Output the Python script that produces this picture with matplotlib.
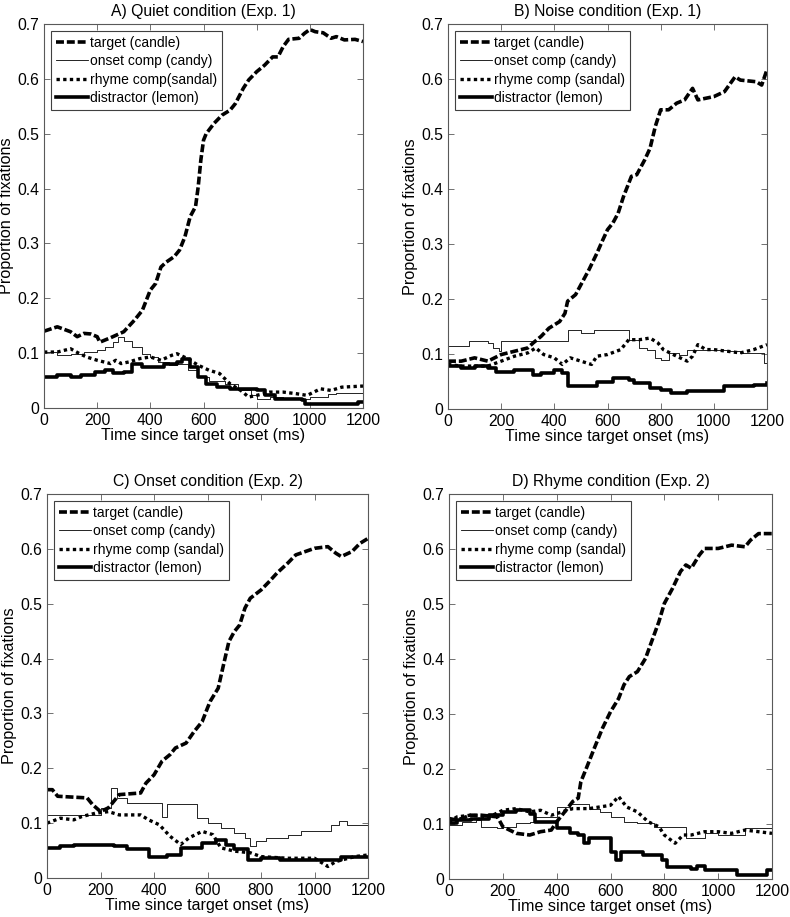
import numpy as np
import matplotlib
matplotlib.use("Agg")
import matplotlib.pyplot as plt

plt.rcParams['font.family'] = ['Liberation Sans', 'DejaVu Sans']

# ---- data (time in ms, proportion of fixations) ----

# A) Quiet condition
a_target_t = [0, 50, 100, 125, 150, 175, 200, 210, 250, 300, 340, 370, 400, 420, 440, 460, 490, 510, 530, 550,
              570, 580, 590, 600, 610, 640, 670, 700, 720, 750, 770, 800, 830, 860, 880, 900, 920, 960, 980,
              1000, 1020, 1050, 1080, 1100, 1130, 1170, 1200]
a_target_y = [0.140, 0.148, 0.139, 0.130, 0.136, 0.135, 0.130, 0.120, 0.128, 0.139, 0.160, 0.178, 0.215, 0.227,
              0.257, 0.266, 0.276, 0.288, 0.312, 0.349, 0.367, 0.403, 0.452, 0.488, 0.500, 0.519, 0.534, 0.543,
              0.555, 0.583, 0.598, 0.613, 0.625, 0.640, 0.640, 0.659, 0.672, 0.674, 0.683, 0.690, 0.686, 0.684,
              0.674, 0.677, 0.671, 0.672, 0.668]
a_onset_t = [0, 50, 100, 150, 200, 230, 260, 280, 300, 330, 370, 400, 430, 470, 500, 540, 580, 620, 680, 730,
             780, 800, 850, 900, 950, 1000, 1070, 1100, 1180, 1200]
a_onset_y = [0.102, 0.096, 0.099, 0.102, 0.105, 0.111, 0.120, 0.130, 0.123, 0.111, 0.099, 0.093, 0.084, 0.078,
             0.081, 0.069, 0.057, 0.050, 0.044, 0.032, 0.023, 0.017, 0.020, 0.017, 0.017, 0.020, 0.026, 0.027,
             0.027, 0.020]
a_rhyme_t = [0, 50, 100, 130, 160, 200, 250, 270, 290, 320, 360, 400, 440, 480, 500, 540, 580, 620, 660, 700,
             740, 770, 800, 850, 900, 950, 990, 1040, 1080, 1120, 1200]
a_rhyme_y = [0.102, 0.102, 0.108, 0.100, 0.093, 0.087, 0.081, 0.087, 0.081, 0.084, 0.090, 0.093, 0.087, 0.096,
             0.099, 0.090, 0.078, 0.069, 0.063, 0.044, 0.032, 0.020, 0.023, 0.029, 0.029, 0.026, 0.023, 0.035,
             0.032, 0.038, 0.040]
a_distr_t = [0, 50, 100, 140, 190, 230, 260, 300, 330, 370, 400, 450, 500, 520, 550, 580, 610, 650, 700, 800,
             830, 870, 970, 980, 1170, 1180, 1200]
a_distr_y = [0.057, 0.060, 0.057, 0.061, 0.066, 0.069, 0.064, 0.066, 0.081, 0.075, 0.075, 0.081, 0.084, 0.090,
             0.075, 0.057, 0.044, 0.038, 0.035, 0.032, 0.023, 0.017, 0.014, 0.008, 0.008, 0.011, 0.011]

# B) Noise condition
b_target_t = [0, 50, 100, 150, 200, 250, 300, 320, 350, 380, 420, 440, 450, 480, 510, 530, 560, 580, 600, 620,
              640, 660, 690, 710, 740, 760, 780, 800, 830, 860, 890, 920, 940, 1000, 1040, 1080, 1100, 1160,
              1180, 1200]
b_target_y = [0.087, 0.087, 0.093, 0.087, 0.099, 0.105, 0.111, 0.120, 0.132, 0.147, 0.159, 0.174, 0.196, 0.208,
              0.235, 0.253, 0.283, 0.305, 0.326, 0.338, 0.356, 0.386, 0.423, 0.426, 0.453, 0.474, 0.514, 0.544,
              0.544, 0.556, 0.562, 0.583, 0.562, 0.568, 0.577, 0.604, 0.598, 0.595, 0.589, 0.617]
b_onset_t = [0, 60, 80, 150, 170, 190, 200, 300, 420, 450, 500, 550, 650, 680, 720, 750, 780, 800, 830, 870,
             900, 950, 1000, 1050, 1100, 1180, 1190, 1200]
b_onset_y = [0.115, 0.115, 0.123, 0.120, 0.111, 0.105, 0.123, 0.123, 0.123, 0.144, 0.138, 0.144, 0.144, 0.126,
             0.111, 0.108, 0.093, 0.090, 0.102, 0.099, 0.108, 0.108, 0.108, 0.105, 0.102, 0.102, 0.084, 0.084]
b_rhyme_t = [0, 50, 100, 150, 200, 250, 300, 330, 360, 400, 430, 460, 500, 540, 560, 600, 650, 680, 720, 760,
             790, 810, 860, 900, 920, 940, 970, 1000, 1050, 1100, 1150, 1200]
b_rhyme_y = [0.081, 0.078, 0.078, 0.078, 0.087, 0.096, 0.102, 0.111, 0.099, 0.093, 0.081, 0.093, 0.087, 0.081,
             0.096, 0.099, 0.108, 0.126, 0.126, 0.129, 0.120, 0.108, 0.096, 0.087, 0.096, 0.117, 0.108, 0.108,
             0.105, 0.102, 0.108, 0.117]
b_distr_t = [0, 50, 100, 150, 180, 250, 300, 320, 350, 400, 430, 450, 540, 560, 620, 680, 700, 760, 800, 840,
             900, 1000, 1040, 1150, 1200]
b_distr_y = [0.078, 0.075, 0.078, 0.075, 0.068, 0.071, 0.071, 0.062, 0.065, 0.071, 0.065, 0.041, 0.041, 0.050,
             0.056, 0.053, 0.047, 0.038, 0.035, 0.029, 0.032, 0.032, 0.041, 0.044, 0.047]

# C) Onset condition
c_target_t = [0, 20, 40, 150, 170, 200, 230, 250, 270, 350, 370, 400, 430, 460, 480, 520, 550, 580, 600, 610,
              640, 660, 680, 700, 720, 740, 760, 800, 830, 860, 900, 930, 1000, 1050, 1080, 1100, 1140, 1170, 1200]
c_target_y = [0.161, 0.161, 0.149, 0.146, 0.134, 0.121, 0.128, 0.140, 0.152, 0.155, 0.173, 0.188, 0.213, 0.225,
              0.237, 0.246, 0.267, 0.285, 0.310, 0.322, 0.346, 0.389, 0.431, 0.449, 0.461, 0.492, 0.510, 0.525,
              0.540, 0.556, 0.574, 0.589, 0.601, 0.604, 0.592, 0.586, 0.595, 0.610, 0.619]
c_onset_t = [0, 130, 200, 240, 260, 300, 360, 430, 450, 520, 560, 600, 650, 700, 740, 760, 780, 820, 900, 950,
             1030, 1060, 1090, 1120, 1200]
c_onset_y = [0.115, 0.115, 0.128, 0.164, 0.146, 0.137, 0.137, 0.112, 0.134, 0.134, 0.109, 0.100, 0.091, 0.082,
             0.073, 0.058, 0.067, 0.073, 0.079, 0.085, 0.085, 0.097, 0.103, 0.097, 0.094]
c_rhyme_t = [0, 50, 100, 130, 180, 230, 270, 350, 380, 420, 460, 500, 530, 580, 620, 650, 700, 760, 800, 900,
             1000, 1050, 1080, 1150, 1200]
c_rhyme_y = [0.100, 0.109, 0.106, 0.112, 0.118, 0.121, 0.115, 0.115, 0.106, 0.097, 0.076, 0.061, 0.073, 0.085,
             0.079, 0.055, 0.049, 0.046, 0.039, 0.036, 0.036, 0.021, 0.030, 0.039, 0.042]
c_distr_t = [0, 50, 100, 150, 200, 250, 300, 380, 450, 500, 540, 580, 630, 670, 700, 750, 800, 850, 870, 1050,
             1100, 1200]
c_distr_y = [0.055, 0.058, 0.061, 0.061, 0.061, 0.058, 0.052, 0.039, 0.042, 0.055, 0.055, 0.064, 0.070, 0.061,
             0.052, 0.033, 0.036, 0.036, 0.033, 0.033, 0.039, 0.039]

# D) Rhyme condition
d_target_t = [0, 30, 80, 120, 180, 200, 250, 300, 340, 380, 400, 420, 460, 480, 490, 510, 540, 570, 600, 630,
              650, 670, 700, 730, 750, 780, 800, 830, 860, 880, 900, 930, 950, 1000, 1050, 1100, 1120, 1150, 1200]
d_target_y = [0.110, 0.107, 0.116, 0.116, 0.113, 0.095, 0.083, 0.080, 0.086, 0.089, 0.104, 0.116, 0.141, 0.147,
              0.177, 0.201, 0.238, 0.274, 0.304, 0.328, 0.353, 0.368, 0.377, 0.401, 0.428, 0.468, 0.501, 0.528,
              0.559, 0.571, 0.565, 0.589, 0.601, 0.601, 0.607, 0.604, 0.616, 0.628, 0.628]
d_onset_t = [0, 50, 100, 120, 180, 200, 250, 300, 320, 350, 400, 420, 450, 520, 560, 600, 650, 700, 760, 860,
             880, 920, 950, 1000, 1100, 1150, 1200]
d_onset_y = [0.098, 0.104, 0.107, 0.095, 0.092, 0.095, 0.101, 0.104, 0.113, 0.113, 0.131, 0.131, 0.137, 0.128,
             0.122, 0.113, 0.104, 0.101, 0.095, 0.095, 0.074, 0.074, 0.083, 0.080, 0.092, 0.092, 0.089]
d_rhyme_t = [0, 30, 80, 150, 200, 250, 300, 340, 380, 420, 460, 520, 560, 600, 630, 660, 700, 740, 780, 800,
             840, 870, 900, 950, 1000, 1050, 1100, 1150, 1200]
d_rhyme_y = [0.104, 0.113, 0.116, 0.113, 0.125, 0.128, 0.122, 0.125, 0.116, 0.122, 0.128, 0.128, 0.131, 0.134,
             0.150, 0.131, 0.122, 0.104, 0.095, 0.080, 0.065, 0.080, 0.080, 0.086, 0.086, 0.083, 0.089, 0.086,
             0.083]
d_distr_t = [0, 30, 80, 150, 200, 250, 300, 320, 380, 400, 450, 480, 500, 520, 570, 600, 620, 640, 700, 720,
             790, 810, 900, 920, 950, 1070, 1180, 1200]
d_distr_y = [0.101, 0.107, 0.110, 0.116, 0.122, 0.125, 0.119, 0.104, 0.104, 0.092, 0.083, 0.080, 0.065, 0.074,
             0.074, 0.050, 0.035, 0.050, 0.050, 0.044, 0.035, 0.022, 0.019, 0.024, 0.016, 0.007, 0.016, 0.016]

titles = ['A) Quiet condition (Exp. 1)', 'B) Noise condition (Exp. 1)',
          'C) Onset condition (Exp. 2)', 'D) Rhyme condition (Exp. 2)']
rhyme_labels = ['rhyme comp(sandal)', 'rhyme comp (sandal)',
                'rhyme comp (sandal)', 'rhyme comp (sandal)']

panels = [
    [(a_target_t, a_target_y), (a_onset_t, a_onset_y), (a_rhyme_t, a_rhyme_y), (a_distr_t, a_distr_y)],
    [(b_target_t, b_target_y), (b_onset_t, b_onset_y), (b_rhyme_t, b_rhyme_y), (b_distr_t, b_distr_y)],
    [(c_target_t, c_target_y), (c_onset_t, c_onset_y), (c_rhyme_t, c_rhyme_y), (c_distr_t, c_distr_y)],
    [(d_target_t, d_target_y), (d_onset_t, d_onset_y), (d_rhyme_t, d_rhyme_y), (d_distr_t, d_distr_y)],
]

# axes rectangles in pixels (left, top, right, bottom)
W, H = 790, 917
boxes = [(44, 24, 363, 408), (448, 24, 767, 409),
         (47, 494, 368, 878), (449, 494, 772, 879)]

fig = plt.figure(figsize=(7.9, 9.17), dpi=100)

for i in range(4):
    l, t, r, b = boxes[i]
    ax = fig.add_axes([l / W, (H - b) / H, (r - l) / W, (b - t) / H])
    (tt, ty), (ot, oy), (rt, ry), (dt, dy) = panels[i]

    ax.plot(tt, ty, color='k', lw=2.6, linestyle=(0, (2.2, 0.8)), label='target (candle)')
    ax.plot(ot, oy, color='k', lw=0.6, drawstyle='steps-post', label='onset comp (candy)')
    ax.plot(rt, ry, color='k', lw=2.4, linestyle=(0, (1.0, 1.0)), label=rhyme_labels[i])
    ax.plot(dt, dy, color='k', lw=2.6, drawstyle='steps-post', label='distractor (lemon)')

    ax.set_xlim(0, 1200)
    ax.set_ylim(0, 0.7)
    ax.set_xticks(np.arange(0, 1201, 200))
    ax.set_yticks(np.arange(0, 0.71, 0.1))
    ax.set_yticklabels(['0', '0.1', '0.2', '0.3', '0.4', '0.5', '0.6', '0.7'])
    ax.tick_params(direction='in', top=True, right=True, length=4, width=0.6,
                   labelsize=11.3, color='0.35')
    for s in ax.spines.values():
        s.set_color('0.35')
        s.set_linewidth(0.8)

    ax.set_xlabel('Time since target onset (ms)', fontsize=11.6, labelpad=0)
    ax.set_ylabel('Proportion of fixations', fontsize=11.6, labelpad=2)
    ax.set_title(titles[i], fontsize=11.3, pad=6)

    leg = ax.legend(loc='upper left', fontsize=10, handlelength=2.3, handletextpad=0.15,
                    labelspacing=0.32, borderpad=0.35, borderaxespad=0.5, fancybox=False,
                    framealpha=1)
    leg.get_frame().set_edgecolor('0.25')
    leg.get_frame().set_linewidth(0.8)

fig.savefig('out.png', dpi=100)
